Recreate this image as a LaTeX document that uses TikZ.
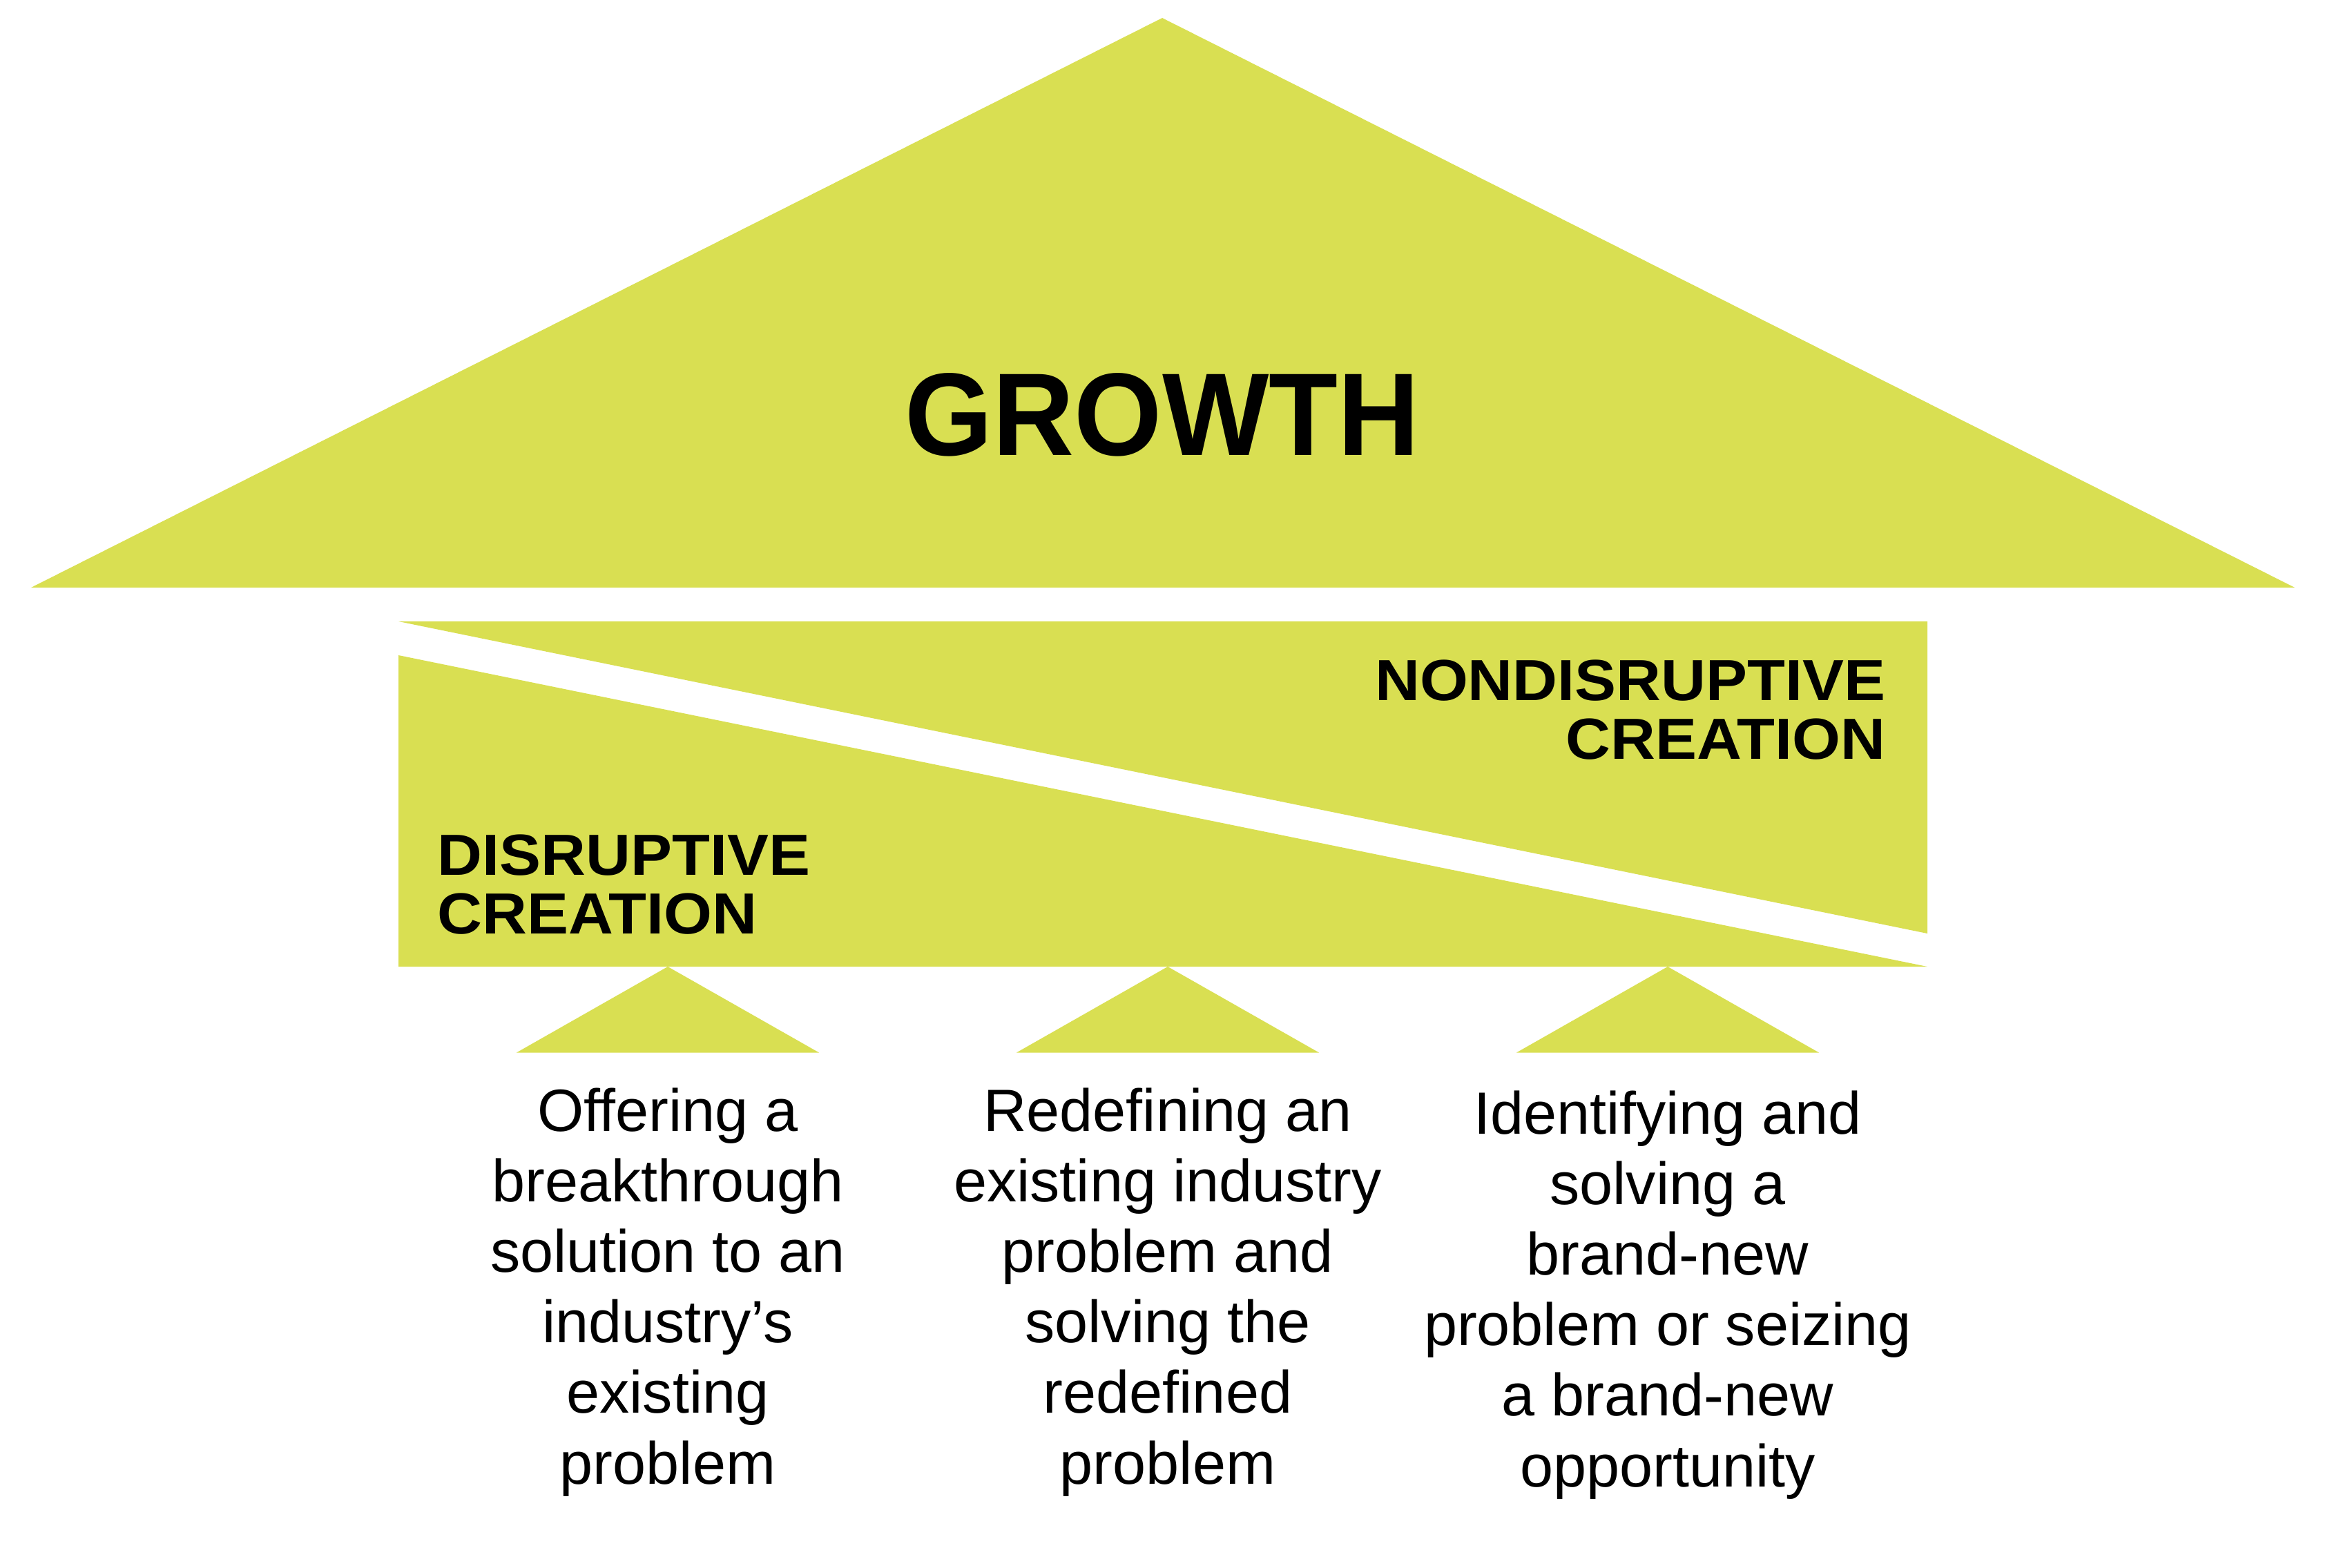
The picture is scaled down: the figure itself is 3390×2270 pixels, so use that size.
\documentclass[tikz,border=0pt]{standalone}
\usepackage{fontspec}
\setmainfont{Liberation Sans}
\newfontfamily\bodyfont{Liberation Sans}
\newfontfamily\headfont{Liberation Sans}[FakeStretch=1.07]
\newfontfamily\growthfont{Liberation Sans}[FakeStretch=0.96]
\definecolor{lime}{RGB}{217,223,82}
\begin{document}
\begin{tikzpicture}[x=0.25pt,y=-0.25pt,
  limefill/.style={fill=lime,draw=none},
  bodytext/.style={font=\bodyfont\fontsize{21.6}{25.55}\selectfont,align=center,inner sep=0pt,anchor=base,text=black},
  headtext/.style={font=\headfont\bfseries\fontsize{21}{21.15}\selectfont,inner sep=0pt,text=black}]
\useasboundingbox (0,0) rectangle (3390,2270);
% roof
\coordinate (roofL) at (45,851);
\coordinate (roofT) at (1683,26);
\coordinate (roofR) at (3323,851);
\fill[limefill] (roofL) -- (roofT) -- (roofR) -- cycle;
\node[font=\growthfont\bfseries\fontsize{42.6}{50}\selectfont,inner sep=0pt,anchor=base] (growth) at (1683,659) {GROWTH};
% box halves
\coordinate (bTL) at (577,900);
\coordinate (bTR) at (2791,900);
\coordinate (bRS) at (2791,1352);
\coordinate (bLS) at (577,949);
\coordinate (bBR) at (2791,1400);
\coordinate (bBL) at (577,1400);
\fill[limefill] (bTL) -- (bTR) -- (bRS) -- cycle;
\fill[limefill] (bLS) -- (bBR) -- (bBL) -- cycle;
% anchor base = baseline of the last line
\node[headtext,align=right,anchor=base east] (nondis) at (2731,1099) {NONDISRUPTIVE\\CREATION};
\node[headtext,align=left,anchor=base west] (dis) at (633,1352) {DISRUPTIVE\\CREATION};
% small triangles
\foreach \cx/\nm in {967/a,1691/b,2415/c}{
  \fill[limefill] (\cx,1400) coordinate (apex\nm) -- (\cx+219,1524.5) -- (\cx-219,1524.5) -- cycle;
}
\node[bodytext] (t1) at (967,2149) {Offering a\\breakthrough\\solution to an\\industry’s\\existing\\problem};
\node[bodytext] (t2) at (1691,2149) {Redefining an\\existing industry\\problem and\\solving the\\redefined\\problem};
\node[bodytext] (t3) at (2415,2153) {Identifying and\\solving a\\brand-new\\problem or seizing\\a brand-new\\opportunity};
\end{tikzpicture}
\end{document}
